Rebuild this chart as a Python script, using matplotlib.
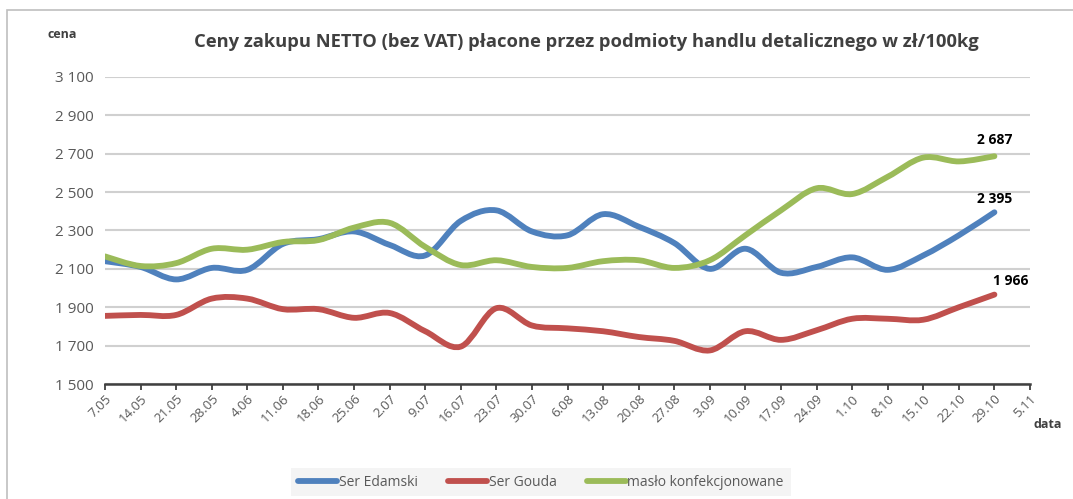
import matplotlib
matplotlib.use("Agg")
import matplotlib.pyplot as plt
from matplotlib.path import Path
from matplotlib.patches import PathPatch, Rectangle
from matplotlib.ticker import FuncFormatter
from matplotlib.lines import Line2D

dates = ["7.05", "14.05", "21.05", "28.05", "4.06", "11.06", "18.06", "25.06", "2.07",
         "9.07", "16.07", "23.07", "30.07", "6.08", "13.08", "20.08", "27.08", "3.09",
         "10.09", "17.09", "24.09", "1.10", "8.10", "15.10", "22.10", "29.10", "5.11"]

edamski = [2140, 2110, 2045, 2105, 2095, 2230, 2255, 2295, 2225, 2170, 2350, 2405, 2295,
           2275, 2385, 2320, 2235, 2100, 2205, 2080, 2110, 2160, 2095, 2170, 2275, 2395]
gouda = [1855, 1860, 1860, 1945, 1945, 1890, 1890, 1845, 1870, 1775, 1695, 1895, 1805,
         1790, 1775, 1745, 1725, 1675, 1775, 1730, 1780, 1840, 1840, 1835, 1900, 1966]
maslo = [2165, 2115, 2130, 2205, 2200, 2240, 2250, 2315, 2340, 2215, 2120, 2145, 2110,
         2105, 2140, 2145, 2105, 2145, 2275, 2405, 2520, 2490, 2580, 2680, 2660, 2687]

names = ["Ser Edamski", "Ser Gouda", "masło konfekcjonowane"]
BLUE, RED, GREEN = "#4f81bd", "#c0504d", "#9bbb59"
GRAY = "#595959"

plt.rcParams["font.family"] = ["Open Sans", "DejaVu Sans"]


def smooth_path(ys):
    # Catmull-Rom -> cubic bezier, like Excel's "smoothed line"
    xs = list(range(len(ys)))
    verts = [(xs[0], ys[0])]
    codes = [Path.MOVETO]
    n = len(ys)
    for i in range(n - 1):
        x0, y0 = xs[max(i - 1, 0)], ys[max(i - 1, 0)]
        x1, y1 = xs[i], ys[i]
        x2, y2 = xs[i + 1], ys[i + 1]
        x3, y3 = xs[min(i + 2, n - 1)], ys[min(i + 2, n - 1)]
        c1 = (x1 + (x2 - x0) / 6, y1 + (y2 - y0) / 6)
        c2 = (x2 - (x3 - x1) / 6, y2 - (y3 - y1) / 6)
        verts += [c1, c2, (x2, y2)]
        codes += [Path.CURVE4] * 3
    return Path(verts, codes)


fig = plt.figure(figsize=(10.73, 4.99), dpi=100)
ax = fig.add_axes([105 / 1073, 1 - 384 / 499, (1030 - 105) / 1073, (384 - 77) / 499])

fig.patches.append(Rectangle((7 / 1073, -0.1), 1.2, 1.1 - 10 / 499, transform=fig.transFigure,
                             fill=False, edgecolor="#bfbfbf", lw=1.2))

for ys, c in zip([edamski, gouda, maslo], [BLUE, RED, GREEN]):
    ax.add_patch(PathPatch(smooth_path(ys), fill=False, edgecolor=c, lw=4.2,
                           capstyle="round", joinstyle="round", zorder=3))

ax.set_xlim(0, len(dates) - 1)
ax.set_ylim(1500, 3100)
ax.set_yticks(range(1500, 3101, 200))
ax.yaxis.set_major_formatter(FuncFormatter(lambda v, p: f"{int(v):,}".replace(",", " ")))
ax.set_xticks(range(len(dates)))
ax.set_xticklabels(dates, rotation=45, ha="right", rotation_mode="anchor", fontsize=9.5, color=GRAY)
ax.tick_params(axis="y", length=0, labelsize=11, labelcolor=GRAY, pad=8)
ax.tick_params(axis="x", length=4, width=1.3, color="#404040", direction="out", pad=2)
ax.yaxis.grid(True, color="#d0d0d0", lw=1.5)
ax.set_axisbelow(True)
for s in ("top", "right", "left"):
    ax.spines[s].set_visible(False)
ax.spines["bottom"].set_color("#404040")
ax.spines["bottom"].set_linewidth(1.8)

ax.text(25, 2687 + 50, "2 687", ha="center", va="bottom", fontsize=10, fontweight="bold", color="black")
ax.text(25, 2395 + 35, "2 395", ha="center", va="bottom", fontsize=10, fontweight="bold", color="black")
ax.text(25.45, 1966 + 35, "1 966", ha="center", va="bottom", fontsize=10, fontweight="bold", color="black")

fig.text(586 / 1073, 1 - 42 / 499, "Ceny zakupu NETTO (bez VAT) płacone przez podmioty handlu detalicznego w zł/100kg",
         ha="center", va="center", fontsize=13.2, fontweight="bold", color="#404040")
fig.text(62 / 1073, 1 - 34 / 499, "cena", ha="center", va="center", fontsize=9, fontweight="bold", color="#404040")
fig.text(1048 / 1073, 1 - 425 / 499, "data", ha="center", va="center", fontsize=9, fontweight="bold", color="#404040")

handles = [Line2D([], [], color=c, lw=4.2, solid_capstyle="round") for c in [BLUE, RED, GREEN]]
leg = fig.legend(handles, names, loc="center", bbox_to_anchor=(541 / 1073, 1 - 482 / 499), ncol=3,
                 frameon=True, fancybox=False, facecolor="#f2f2f2", edgecolor="none",
                 fontsize=10, handlelength=2.8, handletextpad=0.1, columnspacing=2.2,
                 borderpad=0.5, borderaxespad=0, labelcolor=GRAY)

fig.savefig("out.png", dpi=100)
